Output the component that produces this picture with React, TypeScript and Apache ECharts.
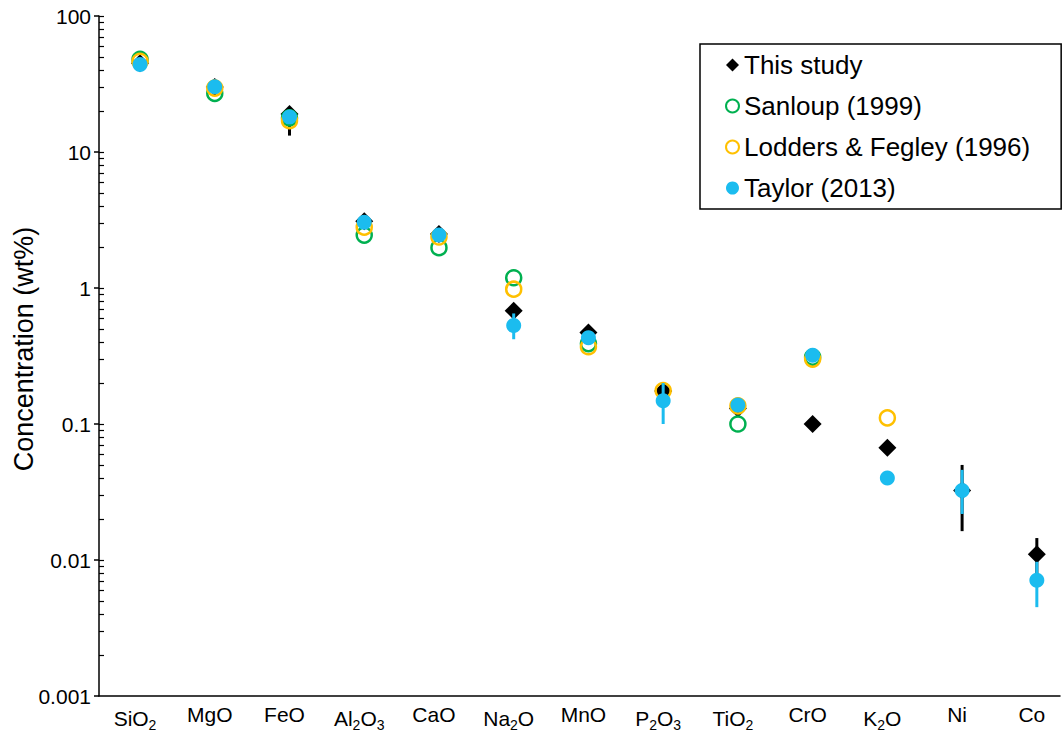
import React, { useEffect, useRef } from "react";
import * as echarts from "echarts";

const categories = ["SiO2", "MgO", "FeO", "Al2O3", "CaO", "Na2O", "MnO", "P2O3", "TiO2", "CrO", "K2O", "Ni", "Co"];
const thisStudy = [45, 30, 19, 3.1, 2.5, 0.68, 0.47, 0.175, 0.13, 0.1, 0.067, 0.0325, 0.011];
const sanloup = [48, 27, 17.8, 2.45, 1.98, 1.19, 0.39, null, 0.1, 0.31, null, null, null];
const lodders = [46.5, 29.5, 17, 2.8, 2.37, 0.98, 0.37, 0.176, 0.136, 0.3, 0.111, null, null];
const taylor = [44, 30.2, 18.1, 3.05, 2.45, 0.53, 0.43, 0.148, 0.138, 0.32, 0.04, 0.0325, 0.0071];
// error bars: [category index, low, high]
const thisStudyErr = [[2, 13.2, 19], [11, 0.0163, 0.05], [12, 0.0075, 0.0145]];
const taylorErr = [[5, 0.42, 0.65], [7, 0.1, 0.2], [11, 0.0218, 0.046], [12, 0.0045, 0.0097]];
const minorTicks = [
  0.002, 0.003, 0.004, 0.005, 0.006, 0.007, 0.008, 0.009, 0.01,
  0.02, 0.03, 0.04, 0.05, 0.06, 0.07, 0.08, 0.09, 0.1,
  0.2, 0.3, 0.4, 0.5, 0.6, 0.7, 0.8, 0.9, 1,
  2, 3, 4, 5, 6, 7, 8, 9, 10,
  20, 30, 40, 50, 60, 70, 80, 90, 100,
];

const FONT = "'Liberation Sans', Arial, sans-serif";
const GREEN = "#00B050";
const ORANGE = "#FFC000";
const BLUE = "#1BBCEF";

const toPairs = (arr: (number | null)[]) =>
  arr.map((v, i) => (v == null ? null : [i, v])).filter((d) => d !== null);

const errSeries = (data: number[][], color: string, z: number) => ({
  type: "custom",
  z,
  data,
  silent: true,
  renderItem: (params: any, api: any) => {
    const x = api.value(0);
    const p1 = api.coord([x, api.value(1)]);
    const p2 = api.coord([x, api.value(2)]);
    return {
      type: "line",
      shape: { x1: p1[0], y1: p1[1], x2: p2[0], y2: p2[1] },
      style: { stroke: color, lineWidth: 3 },
    };
  },
});

export default function App() {
  const ref = useRef<HTMLDivElement>(null);
  useEffect(() => {
    document.body.style.margin = "0";
    const chart = echarts.init(ref.current!, null, { renderer: "svg" });
    chart.setOption({
      animation: false,
      backgroundColor: "#fff",
      textStyle: { fontFamily: FONT },
      grid: { left: 99, right: 2, top: 16, bottom: 38, containLabel: false, outerBoundsMode: "none" },
      xAxis: {
        type: "value",
        min: -0.549,
        max: 12.31,
        splitLine: { show: false },
        axisTick: { show: false },
        axisLine: { onZero: false, lineStyle: { color: "#000", width: 1.5 } },
        axisLabel: {
          customValues: categories.map((_, i) => i),
          margin: 8,
          color: "#000",
          fontSize: 21,
          fontFamily: FONT,
          padding: [0, 10, 0, 0],
          formatter: (v: number) => {
            const name = categories[Math.round(v)] || "";
            return name.replace(/(\d)/g, "{s|$1}");
          },
          rich: {
            s: { fontSize: 14, fontFamily: FONT, color: "#000", padding: [14, 0, 0, 0] },
          },
        },
      },
      yAxis: [
        {
          type: "log",
          logBase: 10,
          min: 0.001,
          max: 100,
          name: "Concentration (wt%)",
          nameLocation: "middle",
          nameGap: 62,
          nameMoveOverlap: false,
          nameTextStyle: { fontSize: 27, color: "#000", fontFamily: FONT, padding: [0, 0, 0, 14] },
          splitLine: { show: false },
          axisLine: { show: true, onZero: false, lineStyle: { color: "#000", width: 1.5 } },
          axisTick: { show: true, length: 5, lineStyle: { color: "#000", width: 1.5 } },
          axisLabel: {
            color: "#000",
            fontSize: 21,
            fontFamily: FONT,
            margin: 8,
            formatter: (v: number) => String(Number(v.toPrecision(3))),
          },
        },
        {
          type: "log",
          logBase: 10,
          min: 0.001,
          max: 100,
          position: "left",
          splitLine: { show: false },
          axisLine: { show: false, onZero: false },
          axisLabel: { show: false },
          axisTick: {
            show: true,
            inside: true,
            length: 5,
            customValues: minorTicks,
            lineStyle: { color: "#000", width: 1.2 },
          },
        },
      ],
      legend: {
        orient: "vertical",
        left: 700,
        top: 44,
        padding: [8, 31, 8, 25],
        itemGap: 15,
        itemWidth: 13,
        itemHeight: 13,
        borderColor: "#000",
        borderWidth: 1.5,
        backgroundColor: "#fff",
        textStyle: { fontSize: 26, color: "#000", fontFamily: FONT },
        data: ["This study", "Sanloup (1999)", "Lodders & Fegley (1996)", "Taylor (2013)"],
      },
      series: [
        errSeries(thisStudyErr, "#000", 1),
        {
          name: "This study",
          type: "scatter",
          z: 2,
          symbol: "diamond",
          symbolSize: 18,
          itemStyle: { color: "#000", opacity: 1 },
          data: toPairs(thisStudy),
        },
        {
          name: "Sanloup (1999)",
          type: "scatter",
          z: 3,
          symbol: "circle",
          symbolSize: 15,
          itemStyle: { color: "rgba(255,255,255,0)", borderColor: GREEN, borderWidth: 2.5, opacity: 1 },
          data: toPairs(sanloup),
        },
        {
          name: "Lodders & Fegley (1996)",
          type: "scatter",
          z: 4,
          symbol: "circle",
          symbolSize: 15,
          itemStyle: { color: "rgba(255,255,255,0)", borderColor: ORANGE, borderWidth: 2.5, opacity: 1 },
          data: toPairs(lodders),
        },
        errSeries(taylorErr, BLUE, 5),
        {
          name: "Taylor (2013)",
          type: "scatter",
          z: 6,
          symbol: "circle",
          symbolSize: 15,
          itemStyle: { color: BLUE, opacity: 1 },
          data: toPairs(taylor),
        },
      ],
    });
    return () => chart.dispose();
  }, []);
  return <div ref={ref} style={{ width: 1062, height: 734 }} />;
}
